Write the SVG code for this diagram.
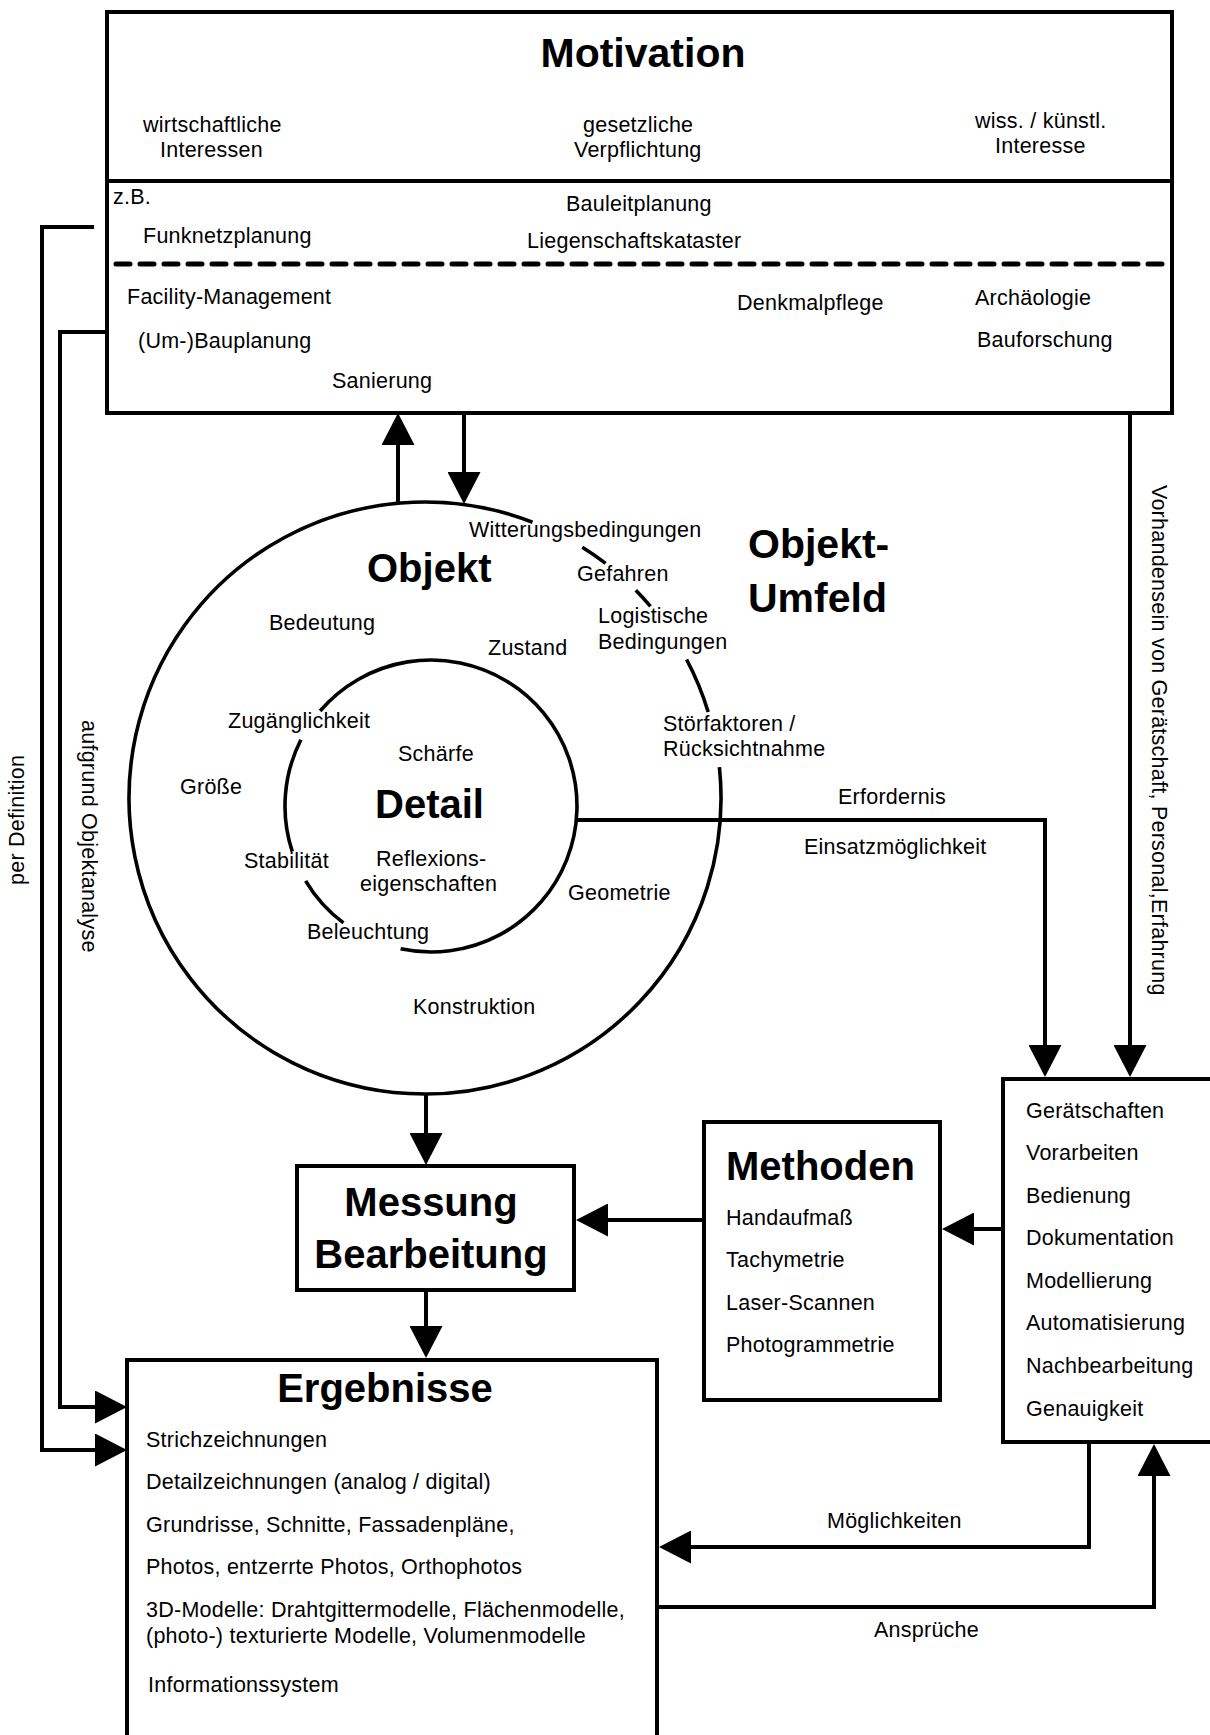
<svg xmlns="http://www.w3.org/2000/svg" width="1210" height="1735" viewBox="0 0 1210 1735">
  <defs>
    <style>
      .box { fill: none; stroke: #000; stroke-width: 4; }
      .ln { fill: none; stroke: #000; stroke-width: 4; stroke-linejoin: miter; }
      .arc { fill: none; stroke: #000; stroke-width: 3.6; }
      .dash { fill: none; stroke: #000; stroke-width: 5; stroke-dasharray: 14 10; stroke-linecap: round; }
      text { font-family: "Liberation Sans", Arial, sans-serif; font-size: 21.5px; letter-spacing: 0.25px; fill: #000; }
      .h { font-weight: bold; font-size: 40px; letter-spacing: 0; }
    </style>
    <marker id="arrow" viewBox="0 0 32 33" refX="0" refY="16.5" markerWidth="32" markerHeight="33" markerUnits="userSpaceOnUse" orient="auto">
      <path d="M0,0 L32,16.5 L0,33 Z" fill="#000"/>
    </marker>
  </defs>

  <rect x="0" y="0" width="1210" height="1735" fill="#fff"/>

  <!-- Motivation -->
  <g id="motivation">
    <rect class="box" x="107" y="12" width="1065" height="401"/>
    <line class="ln" x1="107" y1="181" x2="1172" y2="181"/>
    <line class="dash" x1="116" y1="264" x2="1172" y2="264"/>
    <text class="h" x="643" y="67" text-anchor="middle" style="font-size:41px">Motivation</text>
    <text x="143" y="132">wirtschaftliche</text>
    <text x="160" y="157">Interessen</text>
    <text x="583" y="132">gesetzliche</text>
    <text x="574" y="157">Verpflichtung</text>
    <text x="975" y="128">wiss. / künstl.</text>
    <text x="995" y="153">Interesse</text>
    <text x="113" y="204">z.B.</text>
    <text x="566" y="211">Bauleitplanung</text>
    <text x="143" y="243">Funknetzplanung</text>
    <text x="527" y="248">Liegenschaftskataster</text>
    <text x="127" y="304">Facility-Management</text>
    <text x="138" y="348">(Um-)Bauplanung</text>
    <text x="332" y="388">Sanierung</text>
    <text x="737" y="310">Denkmalpflege</text>
    <text x="975" y="305">Archäologie</text>
    <text x="977" y="347">Bauforschung</text>
  </g>

  <!-- Objekt: outer ring, broken where the environment labels sit -->
  <g id="objekt">
    <path class="arc" d="M719.4,767.1 A296,296 0 1 1 532.5,522.2"/>
    <path class="arc" d="M582.3,547.3 A296,296 0 0 1 605.6,563.4"/>
    <path class="arc" d="M635.8,590.2 A296,296 0 0 1 650.5,606.3"/>
    <path class="arc" d="M686.6,659.5 A296,296 0 0 1 708.2,712.0"/>
    <text class="h" x="367" y="582">Objekt</text>
    <text x="269" y="630">Bedeutung</text>
    <text x="488" y="655">Zustand</text>
    <text x="228" y="728">Zugänglichkeit</text>
    <text x="180" y="794">Größe</text>
    <text x="244" y="868">Stabilität</text>
    <text x="307" y="939">Beleuchtung</text>
    <text x="568" y="900">Geometrie</text>
    <text x="413" y="1014">Konstruktion</text>
  </g>

  <!-- Detail: inner ring -->
  <g id="detail">
    <path class="arc" d="M320.1,711 A146,146 0 1 1 400.6,948.8"/>
    <path class="arc" d="M343.5,922.9 A146,146 0 0 1 305.6,880.8"/>
    <path class="arc" d="M292.3,851.6 A146,146 0 0 1 300.9,739.7"/>
    <text class="h" x="375" y="818">Detail</text>
    <text x="398" y="761">Schärfe</text>
    <text x="376" y="866">Reflexions-</text>
    <text x="360" y="891">eigenschaften</text>
  </g>

  <!-- Objekt-Umfeld -->
  <g id="objekt-umfeld">
    <text class="h" x="748" y="558" style="font-size:41px">Objekt-</text>
    <text class="h" x="748" y="612" style="font-size:41px">Umfeld</text>
    <text x="469" y="537">Witterungsbedingungen</text>
    <text x="577" y="581">Gefahren</text>
    <text x="598" y="623">Logistische</text>
    <text x="598" y="649">Bedingungen</text>
    <text x="663" y="731">Störfaktoren /</text>
    <text x="663" y="756">Rücksichtnahme</text>
  </g>

  <!-- Messung / Bearbeitung -->
  <g id="messung">
    <rect class="box" x="297" y="1166" width="277" height="124"/>
    <text class="h" x="431" y="1216" text-anchor="middle">Messung</text>
    <text class="h" x="431" y="1268" text-anchor="middle">Bearbeitung</text>
  </g>

  <!-- Methoden -->
  <g id="methoden">
    <rect class="box" x="704" y="1122" width="236" height="278"/>
    <text class="h" x="726" y="1180">Methoden</text>
    <text x="726" y="1225">Handaufmaß</text>
    <text x="726" y="1267">Tachymetrie</text>
    <text x="726" y="1310">Laser-Scannen</text>
    <text x="726" y="1352">Photogrammetrie</text>
  </g>

  <!-- Gerätschaften (box runs off the right edge) -->
  <g id="geraetschaften">
    <rect class="box" x="1003" y="1079" width="240" height="363"/>
    <text x="1026" y="1118">Gerätschaften</text>
    <text x="1026" y="1160">Vorarbeiten</text>
    <text x="1026" y="1203">Bedienung</text>
    <text x="1026" y="1245">Dokumentation</text>
    <text x="1026" y="1288">Modellierung</text>
    <text x="1026" y="1330">Automatisierung</text>
    <text x="1026" y="1373">Nachbearbeitung</text>
    <text x="1026" y="1416">Genauigkeit</text>
  </g>

  <!-- Ergebnisse (box runs off the bottom edge) -->
  <g id="ergebnisse">
    <rect class="box" x="127" y="1360" width="530" height="400"/>
    <text class="h" x="385" y="1402" text-anchor="middle">Ergebnisse</text>
    <text x="146" y="1447">Strichzeichnungen</text>
    <text x="146" y="1489">Detailzeichnungen (analog / digital)</text>
    <text x="146" y="1532">Grundrisse, Schnitte, Fassadenpläne,</text>
    <text x="146" y="1574">Photos, entzerrte Photos, Orthophotos</text>
    <text x="146" y="1617">3D-Modelle: Drahtgittermodelle, Flächenmodelle,</text>
    <text x="146" y="1643">(photo-) texturierte Modelle, Volumenmodelle</text>
    <text x="148" y="1692">Informationssystem</text>
  </g>

  <!-- Connectors -->
  <g id="connectors">
    <path class="ln" d="M398,502 V445" marker-end="url(#arrow)"/>
    <path class="ln" d="M464,413 V472" marker-end="url(#arrow)"/>
    <path class="ln" d="M426,1094 V1133" marker-end="url(#arrow)"/>
    <path class="ln" d="M426,1290 V1326" marker-end="url(#arrow)"/>
    <path class="ln" d="M94,227 H42 V1450 H95" marker-end="url(#arrow)"/>
    <path class="ln" d="M107,332 H60 V1407 H95" marker-end="url(#arrow)"/>
    <path class="ln" d="M577,820 H1045 V1045" marker-end="url(#arrow)"/>
    <path class="ln" d="M1130,413 V1045" marker-end="url(#arrow)"/>
    <path class="ln" d="M1003,1229 H974" marker-end="url(#arrow)"/>
    <path class="ln" d="M704,1220 H608" marker-end="url(#arrow)"/>
    <path class="ln" d="M1089,1442 V1547 H691" marker-end="url(#arrow)"/>
    <path class="ln" d="M659,1607 H1154 V1476" marker-end="url(#arrow)"/>
  </g>

  <!-- Connector labels -->
  <g id="connector-labels">
    <text transform="translate(24,885) rotate(-90)">per Definition</text>
    <text transform="translate(82,720) rotate(90)">aufgrund Objektanalyse</text>
    <text transform="translate(1152,485) rotate(90)">Vorhandensein von Gerätschaft,  Personal,Erfahrung</text>
    <text x="838" y="804">Erfordernis</text>
    <text x="804" y="854">Einsatzmöglichkeit</text>
    <text x="827" y="1528">Möglichkeiten</text>
    <text x="874" y="1637">Ansprüche</text>
  </g>
</svg>
